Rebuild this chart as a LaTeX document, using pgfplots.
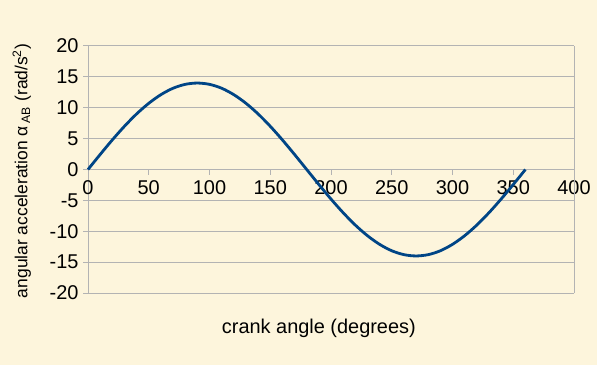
\documentclass[border=0pt]{standalone}
\usepackage{fontspec}
\setmainfont{Liberation Sans}
\usepackage{pgfplots}
\pgfplotsset{compat=1.18}
\definecolor{bgc}{HTML}{FDF5DC}
\definecolor{gridc}{HTML}{B3B3B3}
\definecolor{linec}{HTML}{004586}
\begin{document}
\begin{tikzpicture}[x=1bp,y=1bp]
\fill[bgc] (0,0) rectangle (597,365);
\useasboundingbox (0,0) rectangle (597,365);
\begin{axis}[
  at={(88bp,72bp)}, anchor=south west,
  scale only axis, width=486bp, height=247bp,
  xmin=0, xmax=400, ymin=-20, ymax=20,
  xtick={0,50,...,400}, ytick={-20,-15,...,20},
  axis x line=middle, axis y line=left,
  axis line style={gridc, line width=1bp, -},
  hide obscured x ticks=false,
  ymajorgrids, grid style={gridc, line width=1bp},
  tick align=outside, major tick length=5bp,
  tick style={gridc, line width=1bp},
  /pgf/number format/assume math mode=true,
  ticklabel style={font=\fontsize{20}{24}\selectfont, text=black},
  xticklabel style={anchor=north, yshift=-3bp},
  yticklabel style={anchor=east, xshift=-1bp},
  xlabel={crank angle (degrees)},
  ylabel={angular acceleration α\,\textsubscript{AB} (rad/s\textsuperscript{2})},
  xlabel style={font=\fontsize{20}{24}\selectfont, at={(axis description cs:0.475,-0.142)}, anchor=center},
  ylabel style={font=\fontsize{17.5}{21}\selectfont, at={(axis description cs:-0.136,0.494)}, anchor=center, rotate=0},
  clip=false,
]
\draw[gridc, line width=1bp] (rel axis cs:1,0) -- (rel axis cs:1,1);
\addplot[linec, line width=2.8bp, smooth] coordinates {
(0,0) (10,2.43) (20,4.79) (30,7.00) (40,9.00) (50,10.72) (60,12.12) (70,13.16) (80,13.79) (90,14.00)
(100,13.79) (110,13.16) (120,12.12) (130,10.72) (140,9.00) (150,7.00) (160,4.79) (170,2.43) (180,0)
(190,-2.43) (200,-4.79) (210,-7.00) (220,-9.00) (230,-10.72) (240,-12.12) (250,-13.16) (260,-13.79) (270,-14.00)
(280,-13.79) (290,-13.16) (300,-12.12) (310,-10.72) (320,-9.00) (330,-7.00) (340,-4.79) (350,-2.43) (360,0)
};
\end{axis}
\end{tikzpicture}
\end{document}
